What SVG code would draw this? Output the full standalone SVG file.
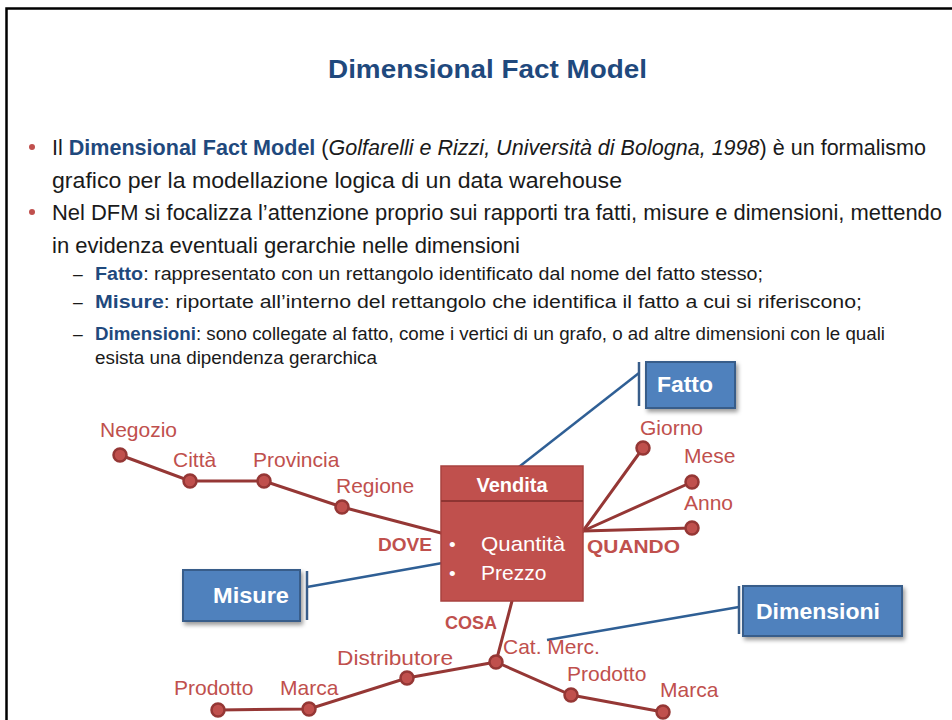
<svg xmlns="http://www.w3.org/2000/svg" width="952" height="720" viewBox="0 0 952 720">
<defs>
<style>
text{font-family:"Liberation Sans",Arial,sans-serif;}
.title{font-size:25px;font-weight:bold;fill:#1F497D;}
.body{font-size:21.5px;fill:#1a1a1a;}
.sub{font-size:17.5px;fill:#1a1a1a;}
.hb{font-weight:bold;fill:#1F497D;}
.lbl{font-size:21px;fill:#C0504D;}
.dim{font-size:19px;font-weight:bold;fill:#C0504D;}
.wt{fill:#ffffff;}
.cb{font-size:22px;font-weight:bold;fill:#ffffff;}
.edge{stroke:#953735;stroke-width:3;fill:none;stroke-linecap:round;}
.node{fill:#C0504D;stroke:#953735;stroke-width:2.5;}
.call{fill:#4F81BD;stroke:#385D8A;stroke-width:2;}
.cl{stroke:#2F5F95;stroke-width:2.5;fill:none;}
</style>
<filter id="sh" x="-20%" y="-20%" width="150%" height="160%">
<feDropShadow dx="2" dy="3" stdDeviation="2" flood-color="#000" flood-opacity="0.4"/>
</filter>
</defs>
<rect width="952" height="720" fill="#ffffff"/>
<path d="M6.5,720 V8.5 H952" fill="none" stroke="#000" stroke-width="2.5"/>

<text class="title" x="328" y="78" textLength="319" lengthAdjust="spacingAndGlyphs">Dimensional Fact Model</text>

<g id="bullets">
<circle cx="32" cy="147" r="3" fill="#C0504D"/>
<circle cx="32" cy="212" r="3" fill="#C0504D"/>
<text class="body" x="52" y="155" textLength="874" lengthAdjust="spacingAndGlyphs">Il <tspan class="hb">Dimensional Fact Model</tspan> (<tspan font-style="italic">Golfarelli e Rizzi, Università di Bologna, 1998</tspan>) è un formalismo</text>
<text class="body" x="52" y="188" textLength="570" lengthAdjust="spacingAndGlyphs">grafico per la modellazione logica di un data warehouse</text>
<text class="body" x="52" y="220" textLength="890" lengthAdjust="spacingAndGlyphs">Nel DFM si focalizza l’attenzione proprio sui rapporti tra fatti, misure e dimensioni, mettendo</text>
<text class="body" x="52" y="253" textLength="468" lengthAdjust="spacingAndGlyphs">in evidenza eventuali gerarchie nelle dimensioni</text>
<text class="sub" x="73" y="280">–</text>
<text class="sub" x="73" y="308">–</text>
<text class="sub" x="73" y="340">–</text>
<text class="sub" x="95" y="280" textLength="668" lengthAdjust="spacingAndGlyphs"><tspan class="hb">Fatto</tspan>: rappresentato con un rettangolo identificato dal nome del fatto stesso;</text>
<text class="sub" x="95" y="308" textLength="767" lengthAdjust="spacingAndGlyphs"><tspan class="hb">Misure</tspan>: riportate all’interno del rettangolo che identifica il fatto a cui si riferiscono;</text>
<text class="sub" x="95" y="340" textLength="790" lengthAdjust="spacingAndGlyphs"><tspan class="hb">Dimensioni</tspan>: sono collegate al fatto, come i vertici di un grafo, o ad altre dimensioni con le quali</text>
<text class="sub" x="95" y="364" textLength="282" lengthAdjust="spacingAndGlyphs">esista una dipendenza gerarchica</text>
</g>

<g id="connectors">
<polyline class="edge" points="120,455 190,481 264,481 342,507 441,533"/>
<line class="edge" x1="583" y1="531" x2="643" y2="448"/>
<line class="edge" x1="583" y1="531" x2="692" y2="482"/>
<line class="edge" x1="583" y1="531" x2="692" y2="528"/>
<line class="edge" x1="512" y1="601" x2="496" y2="662"/>
<polyline class="edge" points="218,710 309,709 407,678 496,662"/>
<polyline class="edge" points="496,662 571,695 663,712"/>
<line class="cl" x1="639" y1="373" x2="515" y2="470"/>
<line class="cl" x1="307" y1="587" x2="448" y2="562"/>
<line class="cl" x1="739" y1="607" x2="547" y2="640"/>
</g>

<g id="fact-vendita">
<rect x="441" y="466" width="142" height="135" fill="#C0504D" stroke="#A8423F" stroke-width="1.5"/>
<line x1="441" y1="501" x2="583" y2="501" stroke="#8E3432" stroke-width="2"/>
<text class="wt" x="512" y="492" text-anchor="middle" font-size="20" font-weight="bold">Vendita</text>
<text class="wt" x="449" y="551" font-size="19">•</text>
<text class="wt" x="449" y="580" font-size="19">•</text>
<text class="wt" x="481" y="551" font-size="21" textLength="84" lengthAdjust="spacingAndGlyphs">Quantità</text>
<text class="wt" x="481" y="580" font-size="21">Prezzo</text>
</g>

<g id="dim-dove">
<text class="dim" x="378" y="551" textLength="54" lengthAdjust="spacingAndGlyphs">DOVE</text>
</g>
<g id="dim-quando">
<text class="dim" x="587" y="553" textLength="93" lengthAdjust="spacingAndGlyphs">QUANDO</text>
</g>
<g id="dim-cosa">
<text class="dim" x="445" y="629" textLength="52" lengthAdjust="spacingAndGlyphs">COSA</text>
</g>

<g id="n-negozio"><circle class="node" cx="120" cy="455" r="6.5"/><text class="lbl" x="100" y="437">Negozio</text></g>
<g id="n-citta"><circle class="node" cx="190" cy="481" r="6.5"/><text class="lbl" x="173" y="467">Città</text></g>
<g id="n-provincia"><circle class="node" cx="264" cy="481" r="6.5"/><text class="lbl" x="253" y="467">Provincia</text></g>
<g id="n-regione"><circle class="node" cx="342" cy="507" r="6.5"/><text class="lbl" x="336" y="493">Regione</text></g>

<g id="n-giorno"><circle class="node" cx="643" cy="448" r="6.5"/><text class="lbl" x="640" y="435">Giorno</text></g>
<g id="n-mese"><circle class="node" cx="692" cy="482" r="6.5"/><text class="lbl" x="684" y="463">Mese</text></g>
<g id="n-anno"><circle class="node" cx="692" cy="528" r="6.5"/><text class="lbl" x="684" y="510">Anno</text></g>

<g id="n-catmerc"><circle class="node" cx="496" cy="662" r="6.5"/><text class="lbl" x="503" y="654">Cat. Merc.</text></g>
<g id="n-distributore"><circle class="node" cx="407" cy="678" r="6.5"/><text class="lbl" x="337" y="665" textLength="116" lengthAdjust="spacingAndGlyphs">Distributore</text></g>
<g id="n-marca1"><circle class="node" cx="309" cy="709" r="6.5"/><text class="lbl" x="280" y="695">Marca</text></g>
<g id="n-prodotto1"><circle class="node" cx="218" cy="710" r="6.5"/><text class="lbl" x="174" y="695">Prodotto</text></g>
<g id="n-prodotto2"><circle class="node" cx="571" cy="695" r="6.5"/><text class="lbl" x="567" y="681">Prodotto</text></g>
<g id="n-marca2"><circle class="node" cx="663" cy="712" r="6.5"/><text class="lbl" x="660" y="697">Marca</text></g>

<g id="callout-fatto">
<rect class="call" x="646" y="362" width="89" height="46" filter="url(#sh)"/>
<line x1="639" y1="362" x2="639" y2="406" stroke="#385D8A" stroke-width="2.5"/>
<text class="cb" x="657" y="392" textLength="56" lengthAdjust="spacingAndGlyphs">Fatto</text>
</g>
<g id="callout-misure">
<rect class="call" x="183" y="570" width="117" height="51" filter="url(#sh)"/>
<line x1="307" y1="571" x2="307" y2="620" stroke="#385D8A" stroke-width="2.5"/>
<text class="cb" x="213" y="603" textLength="76" lengthAdjust="spacingAndGlyphs">Misure</text>
</g>
<g id="callout-dimensioni">
<rect class="call" x="743" y="586" width="159" height="50" filter="url(#sh)"/>
<line x1="739" y1="586" x2="739" y2="634" stroke="#385D8A" stroke-width="2.5"/>
<text class="cb" x="756" y="619" textLength="124" lengthAdjust="spacingAndGlyphs">Dimensioni</text>
</g>
</svg>
